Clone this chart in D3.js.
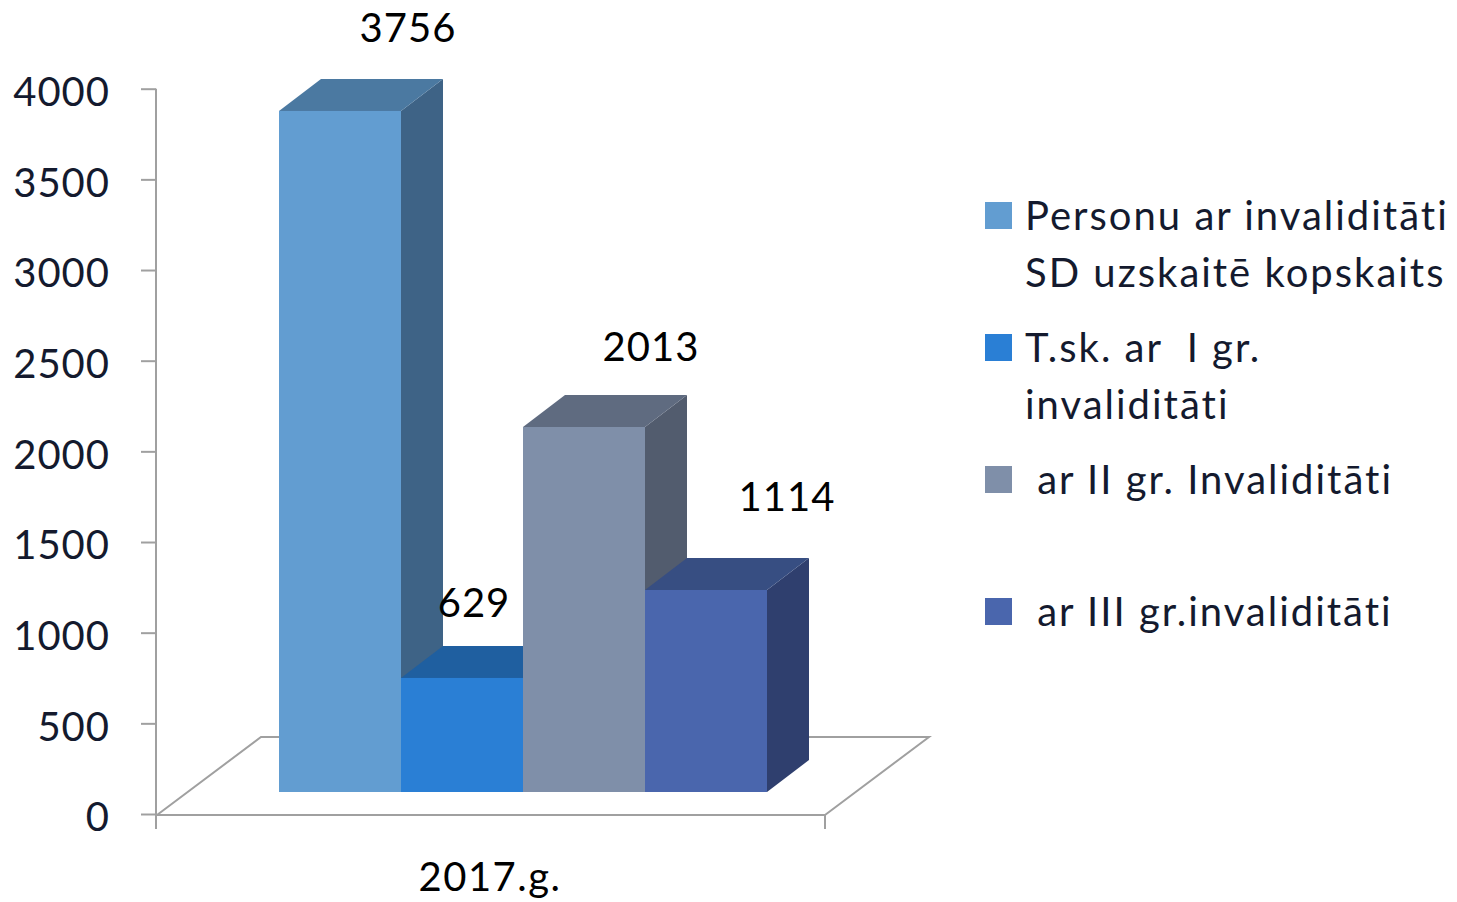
<!DOCTYPE html>
<html>
<head>
<meta charset="utf-8">
<style>
    body { margin: 0; background: #fff; }
    svg { display: block; }
    text { font-family: Lato, "Open Sans", sans-serif; }
</style>
</head>
<body>
<svg id="chart" width="1457" height="902"></svg>

<script src="https://d3js.org/d3.v7.min.js"></script>
<script>
    // data
    var category = "2017.g.";
    var seriesNames = [
        "Personu ar invaliditāti|SD uzskaitē kopskaits",
        "T.sk. ar  I gr.|invaliditāti",
        " ar II gr. Invaliditāti",
        " ar III gr.invaliditāti"
    ];
    var seriesValues = [3756, 629, 2013, 1114];
    var yTicks = [0, 500, 1000, 1500, 2000, 2500, 3000, 3500, 4000];

    // front / top / side colour of each 3d bar
    var frontColors = ["#629dd1", "#2a7fd5", "#7f8fa9", "#4a66ad"];
    var topColors = ["#4b79a1", "#1f5fa0", "#5f6b80", "#374e82"];
    var sideColors = ["#3e6386", "#1c5592", "#525c6e", "#2f3f6e"];

    var svg = d3.select("#chart");

    var y = d3.scaleLinear().domain([0, 4000]).range([814, 88.7]);
    var x = d3.scaleBand().domain(d3.range(seriesValues.length)).range([279, 767]).padding(0);

    var barLift = 22;          // bar front sits a bit behind the floor front edge
    var depth = {dx: 42, dy: -32};
    var floor = {x0: 157, x1: 825, dx: 104, dy: -78};
    var axisColor = "#a0a0a0";

    // floor outline
    var fy = y(0) + 1;
    var floorG = svg.append("g").attr("fill", "none").attr("stroke", axisColor).attr("stroke-width", 2);
    floorG.append("path")
        .attr("d", "M" + floor.x0 + "," + fy +
            "L" + (floor.x0 + floor.dx) + "," + (fy + floor.dy) +
            "L" + (floor.x1 + floor.dx) + "," + (fy + floor.dy) +
            "L" + floor.x1 + "," + fy);
    floorG.append("line")
        .attr("x1", floor.x0).attr("x2", floor.x1)
        .attr("y1", fy).attr("y2", fy);
    floorG.append("line")
        .attr("x1", floor.x1).attr("x2", floor.x1)
        .attr("y1", fy).attr("y2", fy + 14);

    // bars
    var bars = svg.append("g").selectAll("g.bar")
        .data(seriesValues)
        .enter().append("g").attr("class", "bar");

    function corners(d, i) {
        var x0 = x(i), x1 = x(i) + x.bandwidth();
        var yb = y(0) - barLift, yt = y(d) - barLift;
        return {x0: x0, x1: x1, yb: yb, yt: yt};
    }

    bars.append("path")
        .attr("fill", function (d, i) { return sideColors[i]; })
        .attr("d", function (d, i) {
            var c = corners(d, i);
            return "M" + c.x1 + "," + c.yt + "L" + (c.x1 + depth.dx) + "," + (c.yt + depth.dy) +
                "L" + (c.x1 + depth.dx) + "," + (c.yb + depth.dy) + "L" + c.x1 + "," + c.yb + "Z";
        });
    bars.append("path")
        .attr("fill", function (d, i) { return topColors[i]; })
        .attr("d", function (d, i) {
            var c = corners(d, i);
            return "M" + c.x0 + "," + c.yt + "L" + (c.x0 + depth.dx) + "," + (c.yt + depth.dy) +
                "L" + (c.x1 + depth.dx) + "," + (c.yt + depth.dy) + "L" + c.x1 + "," + c.yt + "Z";
        });
    bars.append("rect")
        .attr("fill", function (d, i) { return frontColors[i]; })
        .attr("x", function (d, i) { return x(i); })
        .attr("y", function (d) { return y(d) - barLift; })
        .attr("width", x.bandwidth())
        .attr("height", function (d) { return y(0) - y(d); });

    // value labels (moved by hand in the original, so each has its own nudge)
    var labelNudge = [[47, -37], [-9, -29], [46, -34], [60, -47]];
    svg.append("g").selectAll("text")
        .data(seriesValues)
        .enter().append("text")
        .attr("x", function (d, i) { return x(i) + x.bandwidth() / 2 + depth.dx / 2 + labelNudge[i][0]; })
        .attr("y", function (d, i) { return y(d) - barLift + depth.dy + labelNudge[i][1]; })
        .attr("text-anchor", "middle")
        .attr("font-size", 40)
        .attr("letter-spacing", 1)
        .attr("fill", "#000")
        .text(function (d) { return d; });

    // y axis
    var yAxis = svg.append("g")
        .attr("transform", "translate(156,0)")
        .call(d3.axisLeft(y).tickValues(yTicks).tickSize(15).tickPadding(31).tickFormat(d3.format("d")));
    yAxis.select(".domain").remove();
    yAxis.selectAll(".tick line").attr("stroke", axisColor).attr("stroke-width", 2);
    yAxis.selectAll(".tick text")
        .attr("font-size", 40)
        .attr("font-family", "Lato, sans-serif")
        .attr("letter-spacing", 1)
        .attr("fill", "#141a2e")
        .attr("dy", "0.42em");
    yAxis.append("line")
        .attr("stroke", axisColor).attr("stroke-width", 2)
        .attr("x1", 0).attr("x2", 0)
        .attr("y1", y(4000)).attr("y2", y(0) + 15);

    // category label
    svg.append("text")
        .attr("x", (floor.x0 + floor.x1) / 2 - 1)
        .attr("y", 891)
        .attr("text-anchor", "middle")
        .attr("font-size", 40)
        .attr("letter-spacing", 1.5)
        .attr("fill", "#000")
        .text(category);

    // legend
    var legendTop = [202, 334, 466, 598];
    var legend = svg.append("g").selectAll("g")
        .data(seriesNames)
        .enter().append("g")
        .attr("transform", function (d, i) { return "translate(985," + legendTop[i] + ")"; });
    legend.append("rect")
        .attr("width", 27).attr("height", 27)
        .attr("fill", function (d, i) { return frontColors[i]; });
    legend.append("text")
        .attr("x", 40)
        .attr("y", 28)
        .attr("font-size", 40)
        .attr("letter-spacing", 2)
        .attr("fill", "#141a2e")
        .attr("xml:space", "preserve")
        .style("white-space", "pre")
        .selectAll("tspan")
        .data(function (d) { return d.split("|"); })
        .enter().append("tspan")
        .attr("x", 40)
        .attr("dy", function (d, j) { return j === 0 ? 0 : 57; })
        .text(function (d) { return d; });
</script>
</body>
</html>
